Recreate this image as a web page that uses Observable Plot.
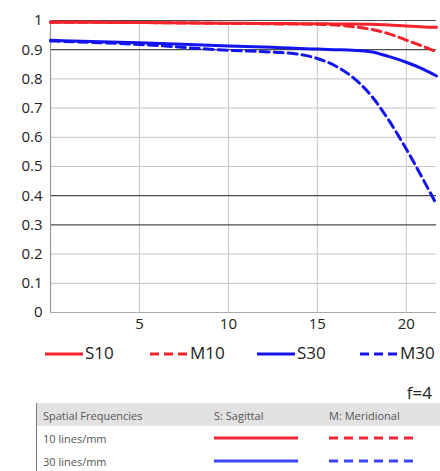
<!DOCTYPE html>
<html>
<head>
<meta charset="utf-8">
<script src="https://cdn.jsdelivr.net/npm/d3@7"></script>
<script src="https://cdn.jsdelivr.net/npm/@observablehq/plot@0.6"></script>
<style>
  html, body { margin: 0; padding: 0; background: #fff; }
  #wrap { position: relative; width: 440px; height: 471px; overflow: hidden; font-family: "Open Sans", sans-serif; }
  #chart { position: absolute; left: 0; top: 0; }
  .leg { position: absolute; top: 342px; font-size: 17px; color: #222; line-height: 22px; }
  .leg svg { vertical-align: middle; margin-right: 2px; }
  #fnum { position: absolute; right: 8px; top: 381px; font-size: 17px; color: #222; }
  #tbl { position: absolute; left: 36px; top: 403px; width: 404px; height: 68px; border-left: 1px solid #777; font-size: 11px; color: #555; }
  #tbl .hdr { position: absolute; left: 0; top: 0; width: 404px; height: 23px; background: #e2e2e2; }
  #tbl .t { position: absolute; }
</style>
</head>
<body>
<div id="wrap">
  <div id="chart"></div>
  <div id="legend"></div>
  <div id="fnum">f=4</div>
  <div id="tbl">
    <div class="hdr"></div>
    <div class="t" style="left:6px;top:5px">Spatial Frequencies</div>
    <div class="t" style="left:177px;top:5px">S: Sagittal</div>
    <div class="t" style="left:292px;top:5px">M: Meridional</div>
    <div class="t" style="left:6px;top:28px">10 lines/mm</div>
    <div class="t" style="left:6px;top:51px">30 lines/mm</div>
    <svg class="t" style="left:0;top:0" width="404" height="68" id="tblsvg"></svg>
  </div>
</div>
<script>
// Data
const xs   = [0, 5, 10, 12, 13, 14, 15, 16, 17, 18, 19, 20, 21, 21.7];
const s10  = [0.994, 0.993, 0.991, 0.990, 0.990, 0.989, 0.989, 0.988, 0.988, 0.987, 0.985, 0.981, 0.978, 0.977];
const m10  = [0.994, 0.993, 0.990, 0.989, 0.988, 0.988, 0.987, 0.985, 0.979, 0.970, 0.955, 0.933, 0.910, 0.893];
const s30  = [0.932, 0.924, 0.913, 0.909, 0.907, 0.904, 0.902, 0.900, 0.898, 0.893, 0.877, 0.857, 0.832, 0.810];
const m30  = [0.930, 0.918, 0.898, 0.893, 0.890, 0.884, 0.870, 0.845, 0.805, 0.745, 0.660, 0.560, 0.450, 0.370];
const seriesNames = ["S10", "M10", "S30", "M30"];
const seriesValues = [s10, m10, s30, m30];
const seriesColors = ["#f2232b", "#f2232b", "#1414ee", "#1414ee"];
const seriesDash = [null, "9,5", null, "9,5"];
const yTicks = [0, 0.1, 0.2, 0.3, 0.4, 0.5, 0.6, 0.7, 0.8, 0.9, 1];
const yDark = [0.3, 0.4, 0.9, 1];
const yLight = [0.1, 0.2, 0.5, 0.6, 0.7, 0.8];
const xTicks = [5, 10, 15, 20];
const fNumber = "f=4";

const rows = [];
seriesNames.forEach((name, i) => {
  xs.forEach((x, j) => rows.push({series: name, x, y: seriesValues[i][j]}));
});

const lineMarks = seriesNames.map((name, i) =>
  Plot.line(rows.filter(r => r.series === name), {
    x: "x", y: "y", curve: "monotone-x",
    stroke: seriesColors[i], strokeWidth: 3,
    strokeDasharray: seriesDash[i] || undefined
  })
);

const chart = Plot.plot({
  width: 440,
  height: 336,
  marginLeft: 50,
  marginRight: 4,
  marginTop: 20,
  marginBottom: 24,
  style: {fontSize: "15px", fontFamily: "Open Sans, sans-serif", color: "#222", background: "#fff"},
  x: {domain: [0, 21.7]},
  y: {domain: [0, 1]},
  marks: [
    Plot.ruleY(yLight, {stroke: "#c4c4c4", strokeWidth: 1}),
    Plot.ruleX(xTicks, {stroke: "#c4c4c4", strokeWidth: 1}),
    Plot.ruleY(yDark, {stroke: "#4a4a4a", strokeWidth: 1.2}),
    Plot.ruleY([0], {stroke: "#aaa", strokeWidth: 1.2}),
    Plot.ruleX([0], {stroke: "#999", strokeWidth: 1.2}),
    ...lineMarks,
    Plot.axisY({ticks: yTicks, tickSize: 0, tickPadding: 8, tickFormat: d3.format("~g"), label: null}),
    Plot.axisX({ticks: xTicks, tickSize: 0, tickPadding: 6, label: null})
  ]
});
document.getElementById("chart").appendChild(chart);

// Legend
const legPos = [45, 150, 257, 360];
const legend = document.getElementById("legend");
seriesNames.forEach((name, i) => {
  const d = document.createElement("div");
  d.className = "leg";
  d.style.left = legPos[i] + "px";
  d.innerHTML = `<svg width="38" height="6"><line x1="0" y1="3" x2="38" y2="3" stroke="${seriesColors[i]}" stroke-width="3" ${seriesDash[i] ? `stroke-dasharray="9,5"` : ""}/></svg>${name}`;
  legend.appendChild(d);
});
document.getElementById("fnum").textContent = fNumber;

// Table swatches
const tsvg = d3.select("#tblsvg");
const tblRows = [{y: 35, c: "#f0283a"}, {y: 58, c: "#3a44f0"}];
tblRows.forEach(r => {
  tsvg.append("line").attr("x1", 177).attr("x2", 261).attr("y1", r.y).attr("y2", r.y).attr("stroke", r.c).attr("stroke-width", 3);
  tsvg.append("line").attr("x1", 292).attr("x2", 377).attr("y1", r.y).attr("y2", r.y).attr("stroke", r.c).attr("stroke-width", 3).attr("stroke-dasharray", "9,6");
});
</script>
</body>
</html>
